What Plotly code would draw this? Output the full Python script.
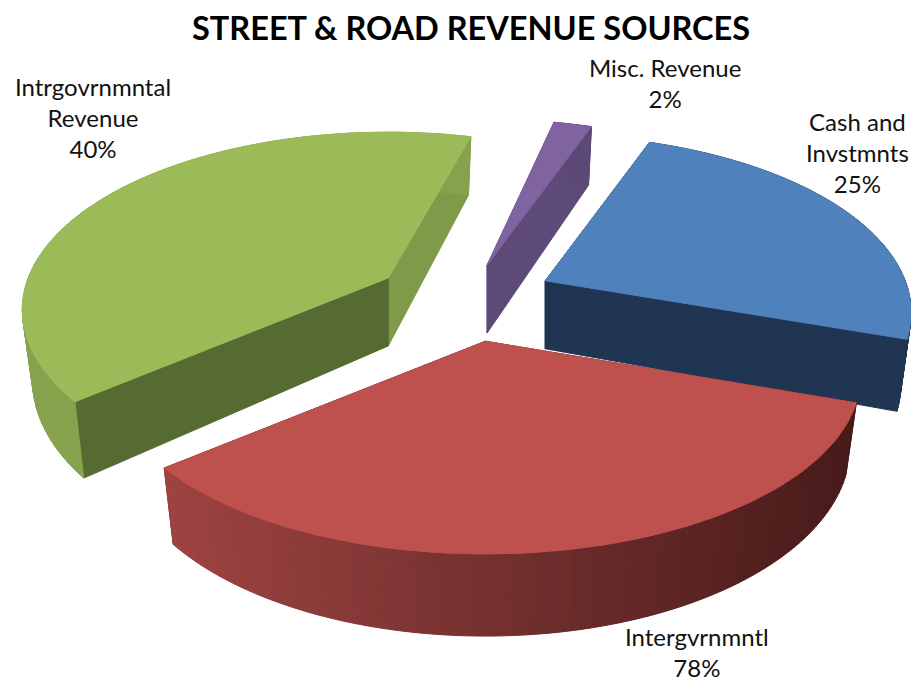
import numpy as np
import plotly.graph_objects as go

TITLE = "STREET & ROAD REVENUE SOURCES"
categories = ["Misc. Revenue", "Cash and Invstmnts", "Intergvrnmntl", "Intrgovrnmntal Revenue"]
angular_share = [2.0, 24.7, 33.8, 39.5]
shown_percent = [2, 25, 78, 40]
label_lines = [["Misc. Revenue"], ["Cash and", "Invstmnts"], ["Intergvrnmntl"], ["Intrgovrnmntal", "Revenue"]]

top_colors = ["#8064A2", "#4F81BD", "#BE504D", "#9BBB59"]
first_wall = ["#5E4A78", "#1F3552", "#4A1C1B", "#566B31"]
last_wall = ["#5E4A78", "#1F3552", "#4A1C1B", "#7F9A48"]
label_pos = [(665, 83), (857, 152), (697, 652), (93, 117)]
paint_order = [3, 0, 1, 2]
radius_scale = [1.0, 1.0, 1.025, 1.0]
sweep_extra = [0.0, 0.0, 0.0, 3.0]
rim_drop = [0, 0, 3, 0]

CX, CY, A, B, K, EX_X, EX_Y, DEPTH, START = 464, 296, 360, 172, 0.18, 0.27, 0.22, 68, -77.4

fig = go.Figure()


def project(deg, r=1.0):
    t = np.radians(deg)
    X, Y = r * np.cos(t), r * np.sin(t)
    s = 1 / (1 - K * Y)
    return X * s, Y * s, s


def poly(xs, ys, color):
    fig.add_trace(go.Scatter(x=list(xs), y=list(ys), mode="lines", fill="toself", fillcolor=color,
                             line=dict(color=color, width=1), hoverinfo="skip", showlegend=False))


def shade(c1, c2, f):
    a = np.array([int(c1[i:i + 2], 16) for i in (1, 3, 5)])
    b = np.array([int(c2[i:i + 2], 16) for i in (1, 3, 5)])
    v = (a + (b - a) * f).round().astype(int)
    return "#%02X%02X%02X" % tuple(v)


edges = START + np.concatenate([[0], np.cumsum(angular_share)]) * 360 / sum(angular_share)

for i in paint_order:
    a0, a1 = edges[i], edges[i + 1] + sweep_extra[i]
    mid = (edges[i] + edges[i + 1]) / 2
    mx, my, _ = project(mid)
    ax, ay = CX + EX_X * mx * A, CY + EX_Y * my * B
    angles = np.linspace(a0, a1, 90)
    X, Y, S = project(angles)
    tx, ty = ax + A * radius_scale[i] * X, ay + B * Y + rim_drop[i]
    bx = ax + 0.972 * A * radius_scale[i] * X
    by = ty + DEPTH * S ** 0.95

    # radial walls
    poly([ax, tx[-1], bx[-1], ax, ax], [ay, ty[-1], by[-1], ay + DEPTH, ay], last_wall[i])
    poly([ax, tx[0], bx[0], ax, ax], [ay, ty[0], by[0], ay + DEPTH, ay], first_wall[i])
    # outer rim
    for j in range(len(angles) - 1):
        if i == 2:
            f = (tx[j] - tx.min()) / (tx.max() - tx.min())
            col = shade("#9E4442", "#471B1A", f)
        elif i == 3:
            col = "#86A24C"
        else:
            col = first_wall[i]
        poly([tx[j], tx[j + 1], bx[j + 1], bx[j], tx[j]], [ty[j], ty[j + 1], by[j + 1], by[j], ty[j]], col)
    # top face
    poly(np.r_[ax, tx, ax], np.r_[ay, ty, ay], top_colors[i])

for lines, pct, (lx, ly) in zip(label_lines, shown_percent, label_pos):
    fig.add_annotation(x=lx, y=ly, xref="x", yref="y", showarrow=False, align="center",
                       text="<br>".join(lines + [f"{pct}%"]),
                       font=dict(family="Lato", size=24, color="#111111"))

fig.add_annotation(x=471, y=27, xref="x", yref="y", showarrow=False, text=f"<b>{TITLE}</b>",
                   font=dict(family="Lato", size=32.5, color="#000000"))

fig.update_layout(width=911, height=683, autosize=False, margin=dict(l=0, r=0, t=0, b=0),
                  paper_bgcolor="white", plot_bgcolor="white", showlegend=False)
fig.update_xaxes(visible=False, range=[0, 911], fixedrange=True)
fig.update_yaxes(visible=False, range=[683, 0], fixedrange=True)
fig.write_html("out.html", config={"displayModeBar": False},
               post_script="document.body.style.margin='0';document.documentElement.style.overflow='hidden';")
